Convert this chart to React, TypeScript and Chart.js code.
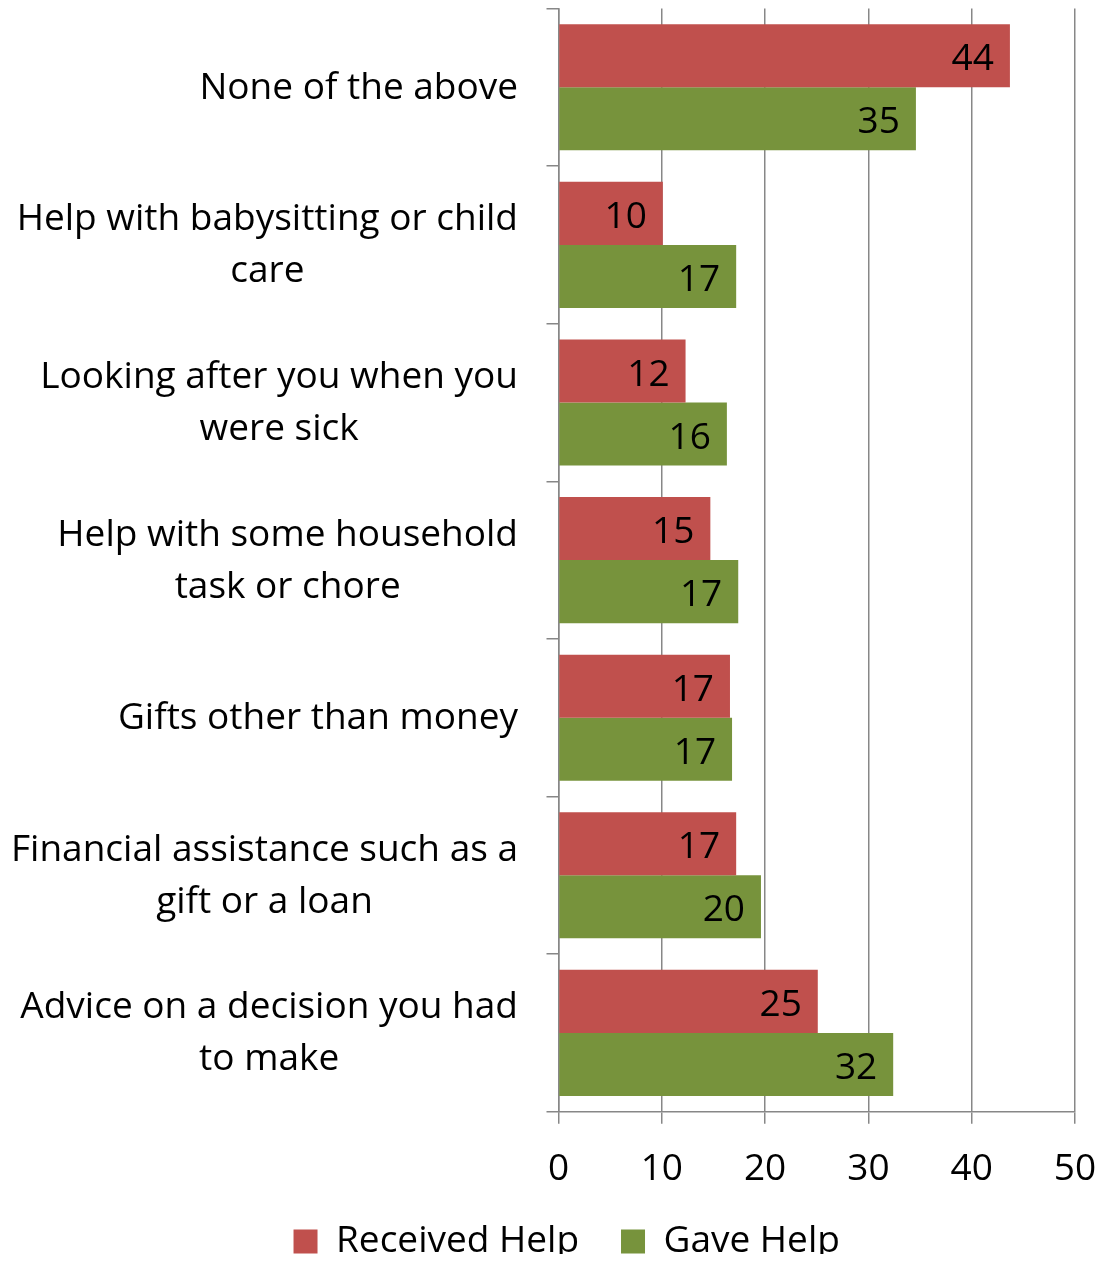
import React, { useEffect, useRef } from "react";
import { Chart, registerables } from "chart.js";

Chart.register(...registerables);

// ---- data ----
const categories: string[][] = [
  ["None of the above"],
  ["Help with babysitting or child", "care"],
  ["Looking after you when you", "were sick"],
  ["Help with some household", "task or chore"],
  ["Gifts other than money"],
  ["Financial assistance such as a", "gift or a loan"],
  ["Advice on a decision you had", "to make"],
];
const seriesNames = ["Received Help", "Gave Help"];
const receivedHelp = [43.7, 10.1, 12.3, 14.7, 16.6, 17.2, 25.1];
const gaveHelp = [34.6, 17.2, 16.3, 17.4, 16.8, 19.6, 32.4];
const xMin = 0;
const xMax = 50;
const xStep = 10;

// ---- style ----
const FONT = "'Open Sans', sans-serif";
const FS = 37;
const RED = "#C0504D";
const GREEN = "#77933C";
const GRID = "#878787";

const yLabelPlugin = {
  id: "yLabelPlugin",
  afterDraw(chart: any) {
    const ctx = chart.ctx;
    const yScale = chart.scales.y;
    const rightEdge = 510;
    const lineH = 52;
    ctx.save();
    ctx.font = `${FS}px ${FONT}`;
    ctx.fillStyle = "#000";
    ctx.textBaseline = "middle";
    ctx.textAlign = "center";
    categories.forEach((lines, i) => {
      const cy = yScale.getPixelForValue(i);
      const w = Math.max(...lines.map((l) => ctx.measureText(l).width));
      const cx = rightEdge - w / 2;
      lines.forEach((l, j) => {
        ctx.fillText(l, cx, cy + (j - (lines.length - 1) / 2) * lineH + 1);
      });
    });
    ctx.restore();
  },
};

const valueLabelPlugin = {
  id: "valueLabelPlugin",
  afterDatasetsDraw(chart: any) {
    const ctx = chart.ctx;
    ctx.save();
    ctx.font = `${FS}px ${FONT}`;
    ctx.fillStyle = "#000";
    ctx.textBaseline = "middle";
    ctx.textAlign = "right";
    chart.data.datasets.forEach((ds: any, d: number) => {
      const meta = chart.getDatasetMeta(d);
      meta.data.forEach((el: any, i: number) => {
        const v = ds.data[i];
        ctx.fillText(String(Math.round(v)), el.x - 16, el.y + 4);
      });
    });
    ctx.restore();
  },
};

export default function App() {
  const ref = useRef<HTMLCanvasElement | null>(null);
  useEffect(() => {
    if (!ref.current) return;
    const chart = new Chart(ref.current, {
      type: "bar",
      data: {
        labels: categories,
        datasets: [
          {
            label: seriesNames[0],
            data: receivedHelp,
            backgroundColor: RED,
            borderWidth: 0,
            categoryPercentage: 0.8,
            barPercentage: 1.0,
          },
          {
            label: seriesNames[1],
            data: gaveHelp,
            backgroundColor: GREEN,
            borderWidth: 0,
            categoryPercentage: 0.8,
            barPercentage: 1.0,
          },
        ],
      },
      options: {
        indexAxis: "y",
        animation: false,
        responsive: false,
        maintainAspectRatio: false,
        layout: { padding: { left: 50.4, right: 27, top: 0.5, bottom: -8 } },
        plugins: {
          legend: {
            position: "bottom",
            labels: {
              boxWidth: 24,
              boxHeight: 24,
              padding: 42,
              color: "#000",
              font: { family: FONT, size: FS },
            },
          },
          tooltip: { enabled: false },
        },
        scales: {
          x: {
            min: xMin,
            max: xMax,
            ticks: {
              stepSize: xStep,
              color: "#000",
              padding: 24,
              font: { family: FONT, size: FS },
            },
            grid: {
              color: GRID,
              lineWidth: 1.5,
              drawTicks: true,
              tickLength: 12,
              tickColor: GRID,
            },
            border: { display: true, color: GRID, width: 1.5 },
            afterFit(scale: any) {
              scale.height = 69.3;
              scale.paddingLeft = 0;
              scale.paddingRight = 0;
            },
          },
          y: {
            ticks: { display: false },
            grid: {
              drawOnChartArea: false,
              drawTicks: true,
              tickLength: 12,
              color: GRID,
              tickColor: GRID,
              lineWidth: 1.5,
            },
            border: { display: true, color: GRID, width: 1.5 },
            afterFit(scale: any) {
              scale.width = 500.1;
            },
          },
        },
      },
      plugins: [valueLabelPlugin, yLabelPlugin],
    } as any);
    let alive = true;
    if ((document as any).fonts && (document as any).fonts.load) {
      (document as any).fonts.load(`${FS}px 'Open Sans'`).then(() => {
        if (alive) chart.update();
      });
    }
    return () => {
      alive = false;
      chart.destroy();
    };
  }, []);
  return (
    <div style={{ width: 1094, height: 1246 }}>
      <canvas ref={ref} width={1094} height={1254} style={{ display: "block", width: 1094, height: 1254 }} />
    </div>
  );
}
